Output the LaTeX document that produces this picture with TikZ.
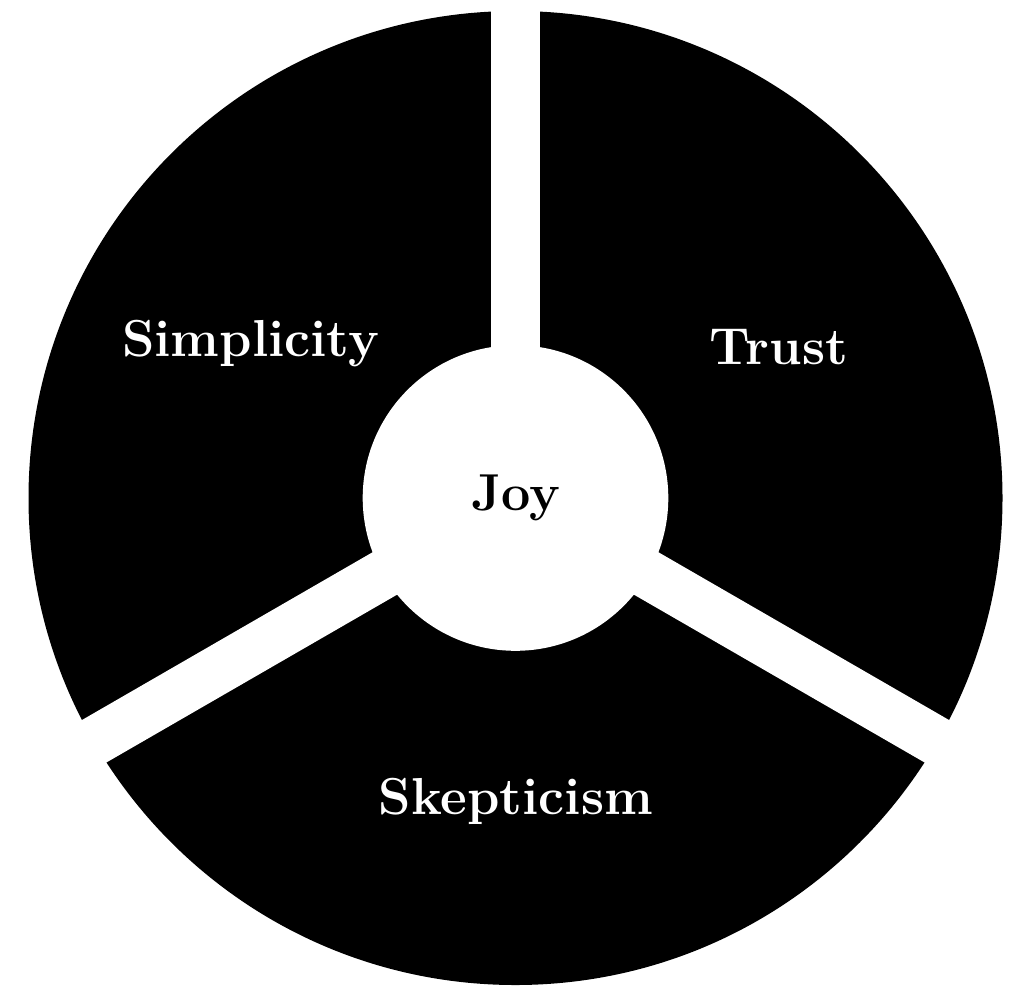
\documentclass[tikz,border=0pt]{standalone}
\usepackage{fontspec}
\begin{document}
\begin{tikzpicture}[x=1pt,y=-1pt,
  lbl/.style={font=\fontsize{52}{62}\selectfont\bfseries, inner sep=0pt},
  gap/.style={draw=white, line width=49pt}]
\useasboundingbox (0,0) rectangle (1030,1005);
\coordinate (c) at (515.5,498);
% black ring
\fill[black] (c) circle[radius=487pt];
\fill[white] (c) circle[radius=152.8pt];
% white separating gaps
\draw[gap] (c) -- ++(-90:520);
\draw[gap] (c) -- ++(30:520);
\draw[gap] (c) -- ++(150:520);
% labels
\node[lbl, text=black] (joy) at (515.5,498) {Joy};
\node[lbl, text=white] (simplicity) at (250.5,344) {Simplicity};
\node[lbl, text=white] (trust) at (779,347) {Trust};
\node[lbl, text=white] (skepticism) at (516,801) {Skepticism};
\end{tikzpicture}
\end{document}
